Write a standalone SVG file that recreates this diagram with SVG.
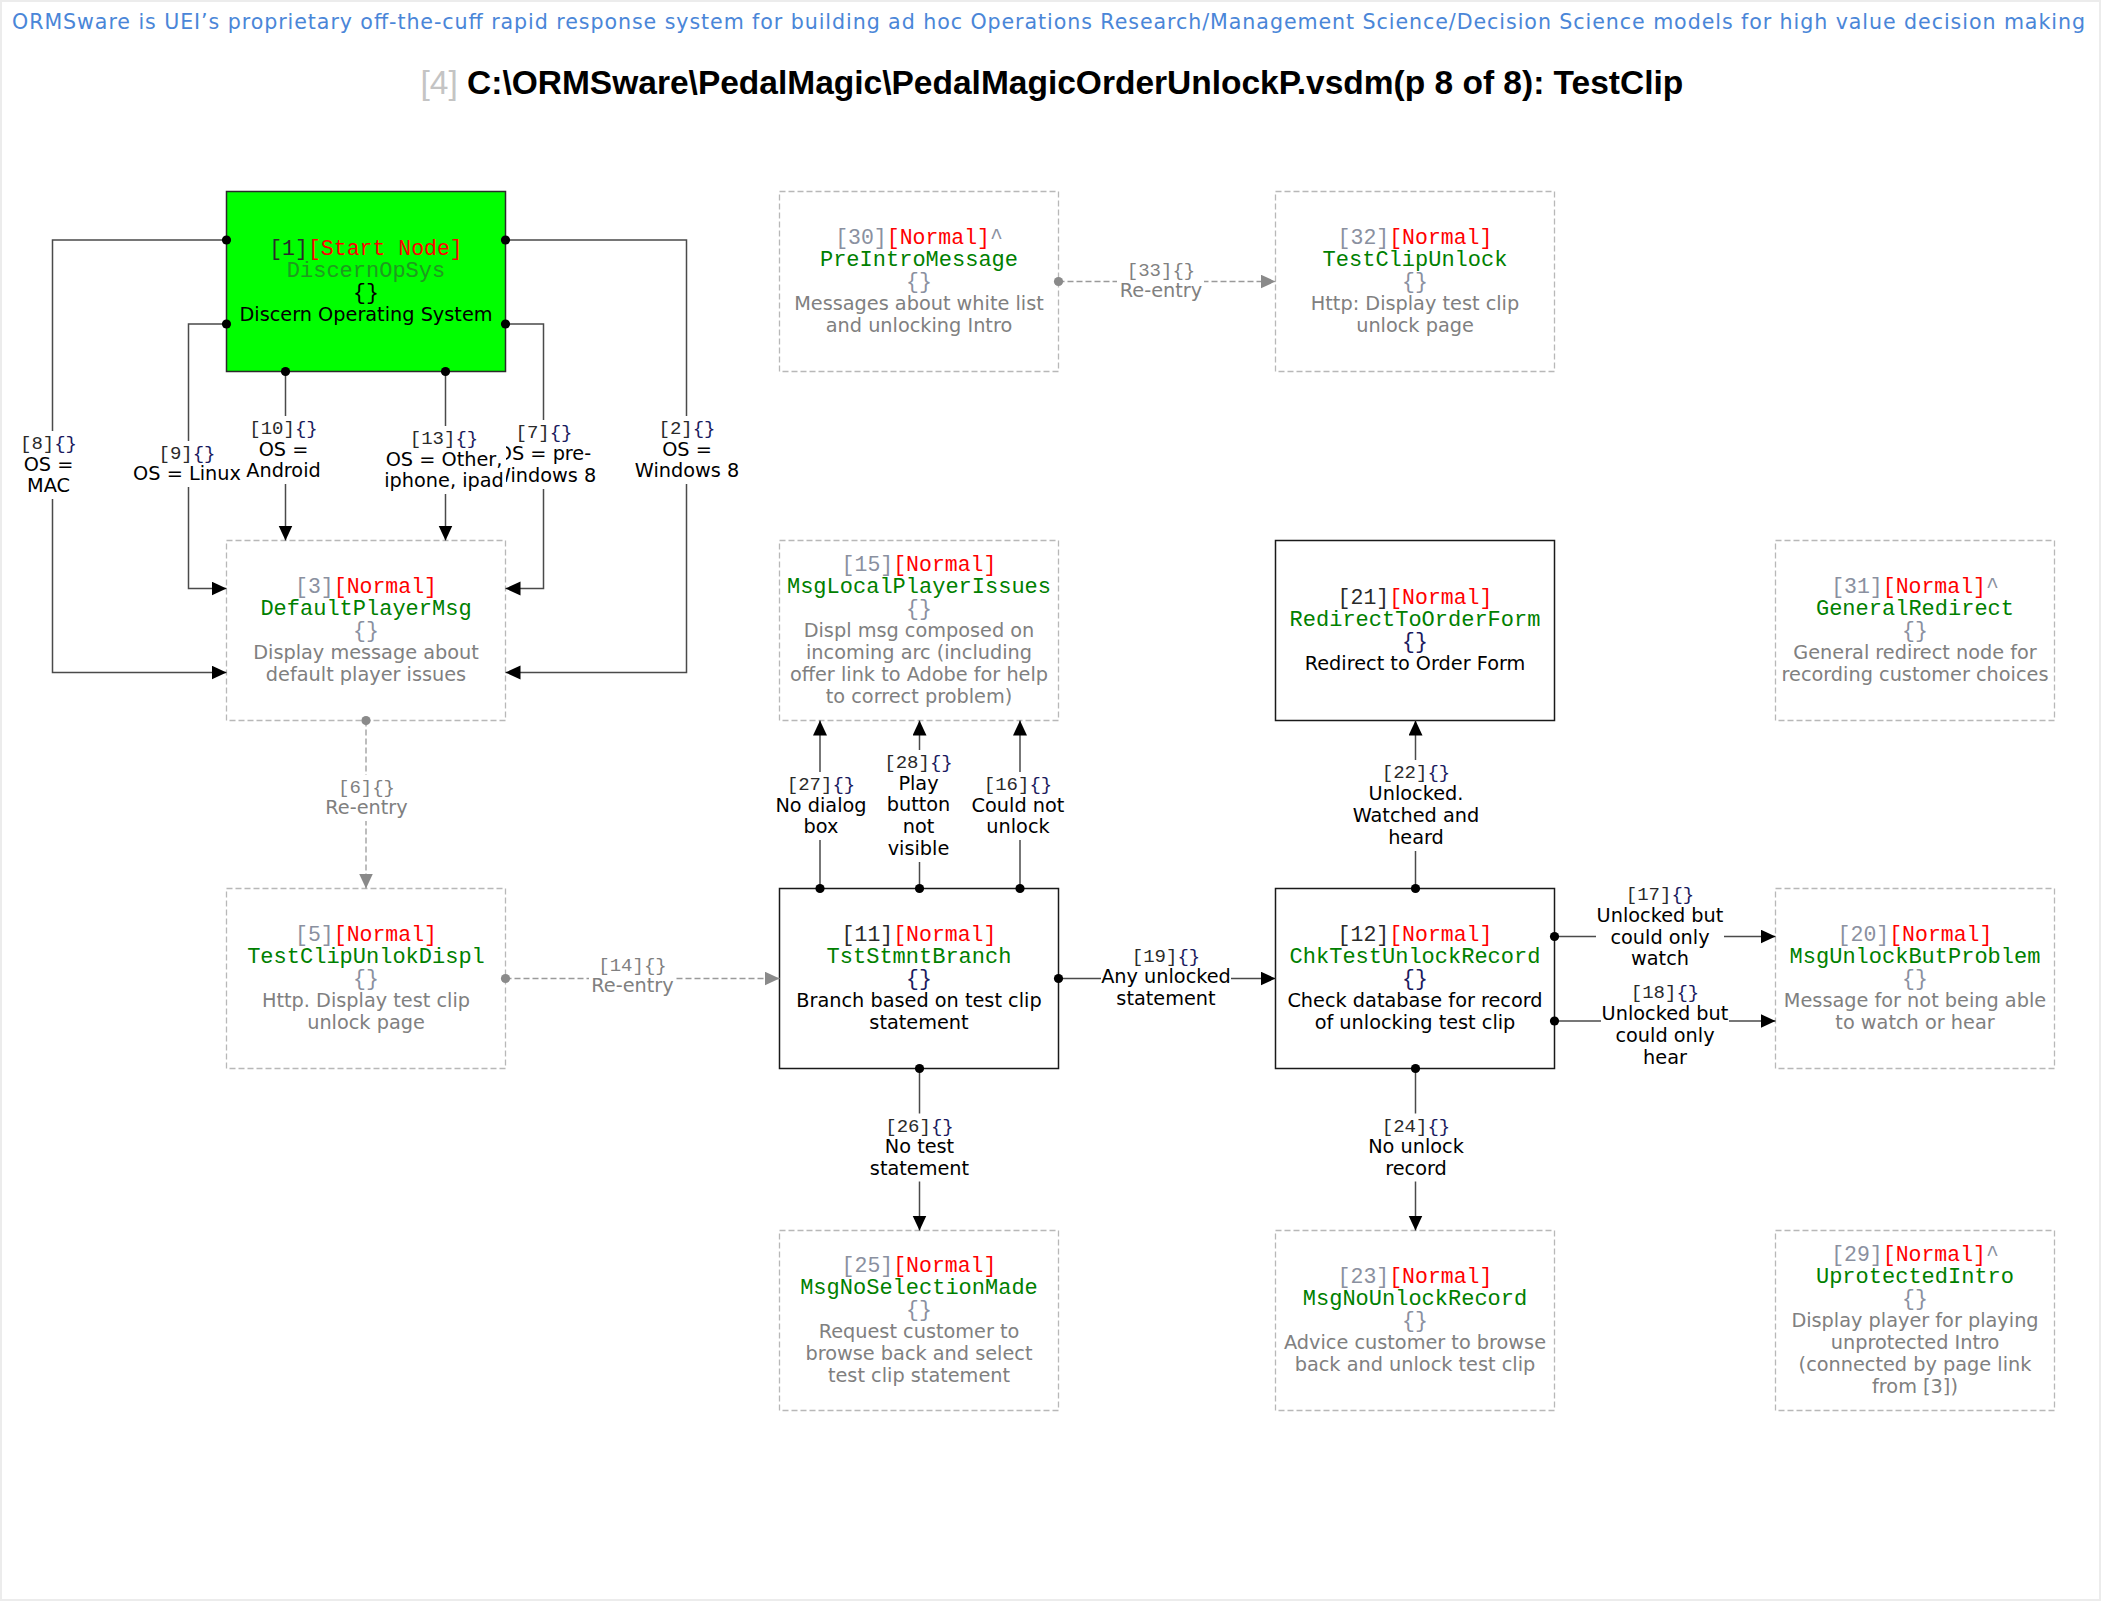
<svg xmlns="http://www.w3.org/2000/svg" width="2102" height="1602" viewBox="0 0 2102 1602">
<style>
text{text-anchor:middle}
.m{font-family:"Liberation Mono","Courier New",monospace;font-size:21.5px}
.nm{font-family:"Liberation Mono","Courier New",monospace;font-size:22px;fill:#008000}
.lm{font-family:"Liberation Mono","Courier New",monospace;font-size:19px}
.s{font-family:"DejaVu Sans","Liberation Sans",sans-serif;font-size:19.3px}
.g{fill:#808080}
.gb{fill:#8a90a0}
.r{fill:#ff0000}
.k{fill:#000000}
.kd{fill:#2a2a2a}
.nv{fill:#1a1a5e}
.dn{fill:#ffffff;stroke:#b8b8b8;stroke-width:1.3;stroke-dasharray:6 3}
.sn{fill:#ffffff;stroke:#1a1a1a;stroke-width:1.5}
.c{fill:none;stroke:#4a4a4a;stroke-width:1.5;marker-start:url(#dot);marker-end:url(#arr)}
.cd{fill:none;stroke:#9a9a9a;stroke-width:1.3;stroke-dasharray:6 3;marker-start:url(#dotg);marker-end:url(#arrg)}
.bg{fill:#ffffff}
</style>
<defs>
<marker id="arr" markerUnits="userSpaceOnUse" markerWidth="16" markerHeight="16" refX="15" refY="7" orient="auto"><path d="M0,0 L15,7 L0,14 Z" fill="#000"/></marker>
<marker id="arrg" markerUnits="userSpaceOnUse" markerWidth="16" markerHeight="16" refX="15" refY="7" orient="auto"><path d="M0,0 L15,7 L0,14 Z" fill="#8a8a8a"/></marker>
<marker id="dot" markerUnits="userSpaceOnUse" markerWidth="12" markerHeight="12" refX="6" refY="6" orient="auto"><circle cx="6" cy="6" r="4.6" fill="#000"/></marker>
<marker id="dotg" markerUnits="userSpaceOnUse" markerWidth="12" markerHeight="12" refX="6" refY="6" orient="auto"><circle cx="6" cy="6" r="4.6" fill="#8a8a8a"/></marker>
</defs>
<rect x="0" y="0" width="2102" height="1602" fill="#ffffff"/>
<rect x="1" y="1" width="2099" height="1599" fill="none" stroke="#ececec" stroke-width="2"/>

<text x="12" y="29" style="text-anchor:start;font-family:'DejaVu Sans','Liberation Sans',sans-serif;font-size:20.6px" fill="#4a86d8" textLength="2073" lengthAdjust="spacing">ORMSware is UEI’s proprietary off-the-cuff rapid response system for building ad hoc Operations Research/Management Science/Decision Science models for high value decision making</text>
<text x="420.5" y="94" style="text-anchor:start;font-family:'Liberation Sans',Arial,sans-serif;font-size:33.5px"><tspan fill="#c4c4c4">[4] </tspan><tspan font-weight="bold" fill="#000">C:\ORMSware\PedalMagic\PedalMagicOrderUnlockP.vsdm(p 8 of 8): TestClip</tspan></text>

<!-- nodes -->
<g id="n1">
<rect x="226.5" y="191.5" width="279" height="180" fill="#00ff00" stroke="#2a2a2a" stroke-width="1.5"/>
<text class="m" x="366" y="254.5"><tspan class="kd">[1]</tspan><tspan class="r">[Start Node]</tspan></text>
<text class="nm" x="366" y="276.5" style="fill:#1f9a1f">DiscernOpSys</text>
<text class="m k" x="366" y="298.5">{}</text>
<text class="s k" x="366" y="320.5">Discern Operating System</text>
</g>
<g id="n30">
<rect class="dn" x="779.5" y="191.5" width="279" height="180"/>
<text class="m" x="919" y="243.5"><tspan class="gb">[30]</tspan><tspan class="r">[Normal]</tspan><tspan class="gb">^</tspan></text>
<text class="nm" x="919" y="265.5">PreIntroMessage</text>
<text class="m gb" x="919" y="287.5">{}</text>
<text class="s g" x="919" y="309.5">Messages about white list</text>
<text class="s g" x="919" y="331.5">and unlocking Intro</text>
</g>
<g id="n32">
<rect class="dn" x="1275.5" y="191.5" width="279" height="180"/>
<text class="m" x="1415" y="243.5"><tspan class="gb">[32]</tspan><tspan class="r">[Normal]</tspan></text>
<text class="nm" x="1415" y="265.5">TestClipUnlock</text>
<text class="m gb" x="1415" y="287.5">{}</text>
<text class="s g" x="1415" y="309.5">Http: Display test clip</text>
<text class="s g" x="1415" y="331.5">unlock page</text>
</g>
<g id="n3">
<rect class="dn" x="226.5" y="540.5" width="279" height="180"/>
<text class="m" x="366" y="592.5"><tspan class="gb">[3]</tspan><tspan class="r">[Normal]</tspan></text>
<text class="nm" x="366" y="614.5">DefaultPlayerMsg</text>
<text class="m gb" x="366" y="636.5">{}</text>
<text class="s g" x="366" y="658.5">Display message about</text>
<text class="s g" x="366" y="680.5">default player issues</text>
</g>
<g id="n15">
<rect class="dn" x="779.5" y="540.5" width="279" height="180"/>
<text class="m" x="919" y="570.5"><tspan class="gb">[15]</tspan><tspan class="r">[Normal]</tspan></text>
<text class="nm" x="919" y="592.5">MsgLocalPlayerIssues</text>
<text class="m gb" x="919" y="614.5">{}</text>
<text class="s g" x="919" y="636.5">Displ msg composed on</text>
<text class="s g" x="919" y="658.5">incoming arc (including</text>
<text class="s g" x="919" y="680.5">offer link to Adobe for help</text>
<text class="s g" x="919" y="702.5">to correct problem)</text>
</g>
<g id="n21">
<rect class="sn" x="1275.5" y="540.5" width="279" height="180"/>
<text class="m" x="1415" y="603.5"><tspan class="kd">[21]</tspan><tspan class="r">[Normal]</tspan></text>
<text class="nm" x="1415" y="625.5">RedirectToOrderForm</text>
<text class="m nv" x="1415" y="647.5">{}</text>
<text class="s k" x="1415" y="669.5">Redirect to Order Form</text>
</g>
<g id="n31">
<rect class="dn" x="1775.5" y="540.5" width="279" height="180"/>
<text class="m" x="1915" y="592.5"><tspan class="gb">[31]</tspan><tspan class="r">[Normal]</tspan><tspan class="gb">^</tspan></text>
<text class="nm" x="1915" y="614.5">GeneralRedirect</text>
<text class="m gb" x="1915" y="636.5">{}</text>
<text class="s g" x="1915" y="658.5">General redirect node for</text>
<text class="s g" x="1915" y="680.5">recording customer choices</text>
</g>
<g id="n5">
<rect class="dn" x="226.5" y="888.5" width="279" height="180"/>
<text class="m" x="366" y="940.5"><tspan class="gb">[5]</tspan><tspan class="r">[Normal]</tspan></text>
<text class="nm" x="366" y="962.5">TestClipUnlokDispl</text>
<text class="m gb" x="366" y="984.5">{}</text>
<text class="s g" x="366" y="1006.5">Http. Display test clip</text>
<text class="s g" x="366" y="1028.5">unlock page</text>
</g>
<g id="n11">
<rect class="sn" x="779.5" y="888.5" width="279" height="180"/>
<text class="m" x="919" y="940.5"><tspan class="kd">[11]</tspan><tspan class="r">[Normal]</tspan></text>
<text class="nm" x="919" y="962.5">TstStmntBranch</text>
<text class="m nv" x="919" y="984.5">{}</text>
<text class="s k" x="919" y="1006.5">Branch based on test clip</text>
<text class="s k" x="919" y="1028.5">statement</text>
</g>
<g id="n12">
<rect class="sn" x="1275.5" y="888.5" width="279" height="180"/>
<text class="m" x="1415" y="940.5"><tspan class="kd">[12]</tspan><tspan class="r">[Normal]</tspan></text>
<text class="nm" x="1415" y="962.5">ChkTestUnlockRecord</text>
<text class="m nv" x="1415" y="984.5">{}</text>
<text class="s k" x="1415" y="1006.5">Check database for record</text>
<text class="s k" x="1415" y="1028.5">of unlocking test clip</text>
</g>
<g id="n20">
<rect class="dn" x="1775.5" y="888.5" width="279" height="180"/>
<text class="m" x="1915" y="940.5"><tspan class="gb">[20]</tspan><tspan class="r">[Normal]</tspan></text>
<text class="nm" x="1915" y="962.5">MsgUnlockButProblem</text>
<text class="m gb" x="1915" y="984.5">{}</text>
<text class="s g" x="1915" y="1006.5">Message for not being able</text>
<text class="s g" x="1915" y="1028.5">to watch or hear</text>
</g>
<g id="n25">
<rect class="dn" x="779.5" y="1230.5" width="279" height="180"/>
<text class="m" x="919" y="1271.5"><tspan class="gb">[25]</tspan><tspan class="r">[Normal]</tspan></text>
<text class="nm" x="919" y="1293.5">MsgNoSelectionMade</text>
<text class="m gb" x="919" y="1315.5">{}</text>
<text class="s g" x="919" y="1337.5">Request customer to</text>
<text class="s g" x="919" y="1359.5">browse back and select</text>
<text class="s g" x="919" y="1381.5">test clip statement</text>
</g>
<g id="n23">
<rect class="dn" x="1275.5" y="1230.5" width="279" height="180"/>
<text class="m" x="1415" y="1282.5"><tspan class="gb">[23]</tspan><tspan class="r">[Normal]</tspan></text>
<text class="nm" x="1415" y="1304.5">MsgNoUnlockRecord</text>
<text class="m gb" x="1415" y="1326.5">{}</text>
<text class="s g" x="1415" y="1348.5">Advice customer to browse</text>
<text class="s g" x="1415" y="1370.5">back and unlock test clip</text>
</g>
<g id="n29">
<rect class="dn" x="1775.5" y="1230.5" width="279" height="180"/>
<text class="m" x="1915" y="1260.5"><tspan class="gb">[29]</tspan><tspan class="r">[Normal]</tspan><tspan class="gb">^</tspan></text>
<text class="nm" x="1915" y="1282.5">UprotectedIntro</text>
<text class="m gb" x="1915" y="1304.5">{}</text>
<text class="s g" x="1915" y="1326.5">Display player for playing</text>
<text class="s g" x="1915" y="1348.5">unprotected Intro</text>
<text class="s g" x="1915" y="1370.5">(connected by page link</text>
<text class="s g" x="1915" y="1392.5">from [3])</text>
</g>

<!-- connectors -->
<g id="connectors">
<path id="c8" class="c" d="M226.5,240 H52.5 V672.5 H226.5"/>
<path id="c9" class="c" d="M226.5,324 H188.5 V588.5 H226.5"/>
<path id="c10" class="c" d="M285.5,371.5 V540.5"/>
<path id="c13" class="c" d="M445.5,371.5 V540.5"/>
<path id="c7" class="c" d="M505.5,324 H543.5 V588.5 H505.5"/>
<path id="c2" class="c" d="M505.5,240 H686.5 V672.5 H505.5"/>
<path id="c6" class="cd" d="M366,720.5 V888.5"/>
<path id="c14" class="cd" d="M505.5,978.5 H779.5"/>
<path id="c33" class="cd" d="M1058.5,281.5 H1275.5"/>
<path id="c27" class="c" d="M820,888.5 V720.5"/>
<path id="c28" class="c" d="M919.5,888.5 V720.5"/>
<path id="c16" class="c" d="M1020,888.5 V720.5"/>
<path id="c19" class="c" d="M1058.5,978.5 H1275.5"/>
<path id="c22" class="c" d="M1415.5,888.5 V720.5"/>
<path id="c17" class="c" d="M1554.5,936.5 H1775.5"/>
<path id="c18" class="c" d="M1554.5,1021 H1775.5"/>
<path id="c26" class="c" d="M919.5,1068.5 V1230.5"/>
<path id="c24" class="c" d="M1415.5,1068.5 V1230.5"/>

<g id="l8"><rect class="bg" x="18" y="431" width="61" height="68"/>
<text class="lm" x="48.5" y="449"><tspan class="kd">[8]</tspan><tspan class="nv">{}</tspan></text>
<text class="s k" x="48.5" y="470.5">OS =</text><text class="s k" x="48.5" y="492">MAC</text></g>
<g id="l9"><rect class="bg" x="132" y="441" width="112" height="46"/>
<text class="lm" x="187" y="459"><tspan class="kd">[9]</tspan><tspan class="nv">{}</tspan></text>
<text class="s k" x="187" y="480">OS = Linux</text></g>
<g id="l10"><rect class="bg" x="244" y="416" width="79" height="68"/>
<text class="lm" x="283.5" y="434"><tspan class="kd">[10]</tspan><tspan class="nv">{}</tspan></text>
<text class="s k" x="283.5" y="455.5">OS =</text><text class="s k" x="283.5" y="477">Android</text></g>
<g id="l7"><rect class="bg" x="490" y="420" width="108" height="69"/>
<text class="lm" x="544" y="438"><tspan class="kd">[7]</tspan><tspan class="nv">{}</tspan></text>
<text class="s k" x="544" y="459.5">OS = pre-</text><text class="s k" x="544" y="481.5">Windows 8</text></g>
<g id="l13"><rect class="bg" x="382" y="426" width="124" height="68"/>
<text class="lm" x="444" y="444"><tspan class="kd">[13]</tspan><tspan class="nv">{}</tspan></text>
<text class="s k" x="444" y="465.5">OS = Other,</text><text class="s k" x="444" y="487">iphone, ipad</text></g>
<g id="l2"><rect class="bg" x="633" y="416" width="108" height="68"/>
<text class="lm" x="687" y="434"><tspan class="kd">[2]</tspan><tspan class="nv">{}</tspan></text>
<text class="s k" x="687" y="455.5">OS =</text><text class="s k" x="687" y="477">Windows 8</text></g>
<g id="l6"><rect class="bg" x="323" y="775" width="87" height="46"/>
<text class="lm g" x="366.5" y="793">[6]{}</text>
<text class="s g" x="366.5" y="814">Re-entry</text></g>
<g id="l14"><rect class="bg" x="589" y="953" width="87" height="46"/>
<text class="lm g" x="632.5" y="971">[14]{}</text>
<text class="s g" x="632.5" y="992">Re-entry</text></g>
<g id="l33"><rect class="bg" x="1117" y="258" width="87" height="46"/>
<text class="lm g" x="1161" y="276">[33]{}</text>
<text class="s g" x="1161" y="297">Re-entry</text></g>
<g id="l27"><rect class="bg" x="774" y="772" width="95" height="68"/>
<text class="lm" x="821" y="790"><tspan class="kd">[27]</tspan><tspan class="nv">{}</tspan></text>
<text class="s k" x="821" y="811.5">No dialog</text><text class="s k" x="821" y="833">box</text></g>
<g id="l28"><rect class="bg" x="883" y="750" width="71" height="112"/>
<text class="lm" x="918.5" y="768"><tspan class="kd">[28]</tspan><tspan class="nv">{}</tspan></text>
<text class="s k" x="918.5" y="789.7">Play</text><text class="s k" x="918.5" y="811.3">button</text>
<text class="s k" x="918.5" y="833">not</text><text class="s k" x="918.5" y="854.6">visible</text></g>
<g id="l16"><rect class="bg" x="967" y="772" width="102" height="68"/>
<text class="lm" x="1018" y="790"><tspan class="kd">[16]</tspan><tspan class="nv">{}</tspan></text>
<text class="s k" x="1018" y="811.5">Could not</text><text class="s k" x="1018" y="833">unlock</text></g>
<g id="l19"><rect class="bg" x="1101" y="943.5" width="130" height="68"/>
<text class="lm" x="1166" y="961.5"><tspan class="kd">[19]</tspan><tspan class="nv">{}</tspan></text>
<text class="s k" x="1166" y="983">Any unlocked</text><text class="s k" x="1166" y="1004.5">statement</text></g>
<g id="l22"><rect class="bg" x="1352" y="760" width="128" height="91"/>
<text class="lm" x="1416" y="778"><tspan class="kd">[22]</tspan><tspan class="nv">{}</tspan></text>
<text class="s k" x="1416" y="800">Unlocked.</text><text class="s k" x="1416" y="822">Watched and</text><text class="s k" x="1416" y="844">heard</text></g>
<g id="l17"><rect class="bg" x="1596" y="882" width="128" height="90"/>
<text class="lm" x="1660" y="900"><tspan class="kd">[17]</tspan><tspan class="nv">{}</tspan></text>
<text class="s k" x="1660" y="921.8">Unlocked but</text><text class="s k" x="1660" y="943.6">could only</text><text class="s k" x="1660" y="965.4">watch</text></g>
<g id="l18"><rect class="bg" x="1601" y="980" width="128" height="91"/>
<text class="lm" x="1665" y="998"><tspan class="kd">[18]</tspan><tspan class="nv">{}</tspan></text>
<text class="s k" x="1665" y="1020">Unlocked but</text><text class="s k" x="1665" y="1042">could only</text><text class="s k" x="1665" y="1064">hear</text></g>
<g id="l26"><rect class="bg" x="868" y="1113.5" width="102" height="68"/>
<text class="lm" x="919.5" y="1131.5"><tspan class="kd">[26]</tspan><tspan class="nv">{}</tspan></text>
<text class="s k" x="919.5" y="1153">No test</text><text class="s k" x="919.5" y="1174.5">statement</text></g>
<g id="l24"><rect class="bg" x="1365" y="1113.5" width="102" height="68"/>
<text class="lm" x="1416" y="1131.5"><tspan class="kd">[24]</tspan><tspan class="nv">{}</tspan></text>
<text class="s k" x="1416" y="1153">No unlock</text><text class="s k" x="1416" y="1174.5">record</text></g>
</g>
</svg>
